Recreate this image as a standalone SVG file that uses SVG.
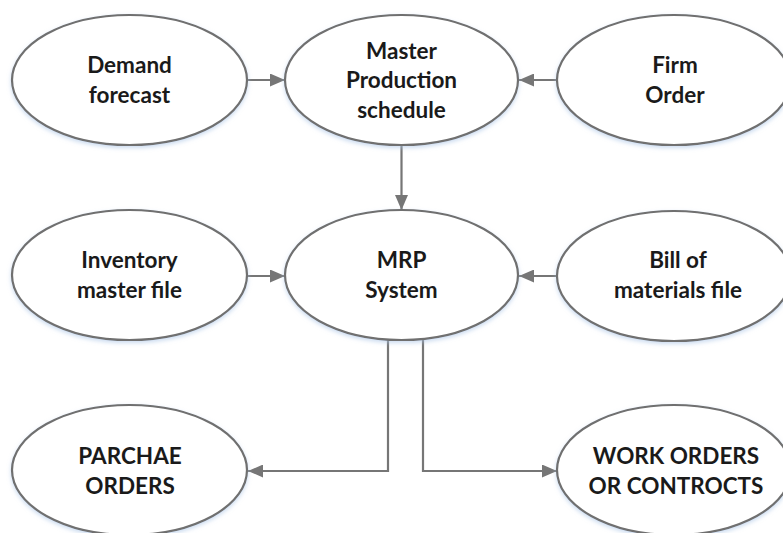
<svg xmlns="http://www.w3.org/2000/svg" width="783" height="533" viewBox="0 0 783 533">
<defs>
<style>
.n ellipse{fill:#fff;stroke:#6f6f6f;stroke-width:2.2;filter:url(#sh)}
.n text{font-family:Lato,"Open Sans","Liberation Sans",sans-serif;font-weight:bold;font-size:22.5px;fill:#1a1a1a;text-anchor:middle}
.c path{fill:none;stroke:#767676;stroke-width:2.2}
</style>
<filter id="sh" x="-10%" y="-10%" width="120%" height="130%">
<feGaussianBlur in="SourceAlpha" stdDeviation="2"/>
<feOffset dx="0" dy="2" result="b"/>
<feFlood flood-color="#a9c4e6" flood-opacity="0.6"/>
<feComposite in2="b" operator="in"/>
<feMerge><feMergeNode/><feMergeNode in="SourceGraphic"/></feMerge>
</filter>
<marker id="ah" viewBox="0 0 15 13" refX="15" refY="6.5" markerWidth="15" markerHeight="13" markerUnits="userSpaceOnUse" orient="auto">
<path d="M0,0 L15,6.5 L0,13 Z" fill="#767676"/>
</marker>
</defs>
<rect width="783" height="533" fill="#fff"/>
<g class="c">
<path d="M247,80 H285" marker-end="url(#ah)"/>
<path d="M557,80 H519" marker-end="url(#ah)"/>
<path d="M401.5,145 V210" marker-end="url(#ah)"/>
<path d="M247,276 H285" marker-end="url(#ah)"/>
<path d="M557,276 H519" marker-end="url(#ah)"/>
<path d="M388,340 V471 H248" marker-end="url(#ah)"/>
<path d="M423,340 V471 H557" marker-end="url(#ah)"/>
</g>
<g class="n" id="demand"><ellipse cx="129.5" cy="80" rx="117.5" ry="65"/><text x="129.5" y="73">Demand</text><text x="129.5" y="103">forecast</text></g>
<g class="n" id="mps"><ellipse cx="401.5" cy="80" rx="116.5" ry="65"/><text x="401.5" y="59">Master</text><text x="401.5" y="88">Production</text><text x="401.5" y="118">schedule</text></g>
<g class="n" id="firm"><ellipse cx="674" cy="80" rx="117" ry="65"/><text x="675" y="73">Firm</text><text x="675" y="103">Order</text></g>
<g class="n" id="inventory"><ellipse cx="129.5" cy="275" rx="117.5" ry="65"/><text x="129.5" y="268">Inventory</text><text x="129.5" y="298">master file</text></g>
<g class="n" id="mrp"><ellipse cx="401.5" cy="275" rx="116.5" ry="65"/><text x="401.5" y="268">MRP</text><text x="401.5" y="298">System</text></g>
<g class="n" id="bom"><ellipse cx="674" cy="276" rx="117" ry="65"/><text x="678" y="268">Bill of</text><text x="678" y="298">materials file</text></g>
<g class="n" id="purchase"><ellipse cx="129.5" cy="470" rx="117.5" ry="65"/><text x="130" y="464">PARCHAE</text><text x="130" y="494">ORDERS</text></g>
<g class="n" id="work"><ellipse cx="674" cy="470" rx="117" ry="65"/><text x="676" y="464">WORK ORDERS</text><text x="676" y="494">OR CONTROCTS</text></g>
</svg>
